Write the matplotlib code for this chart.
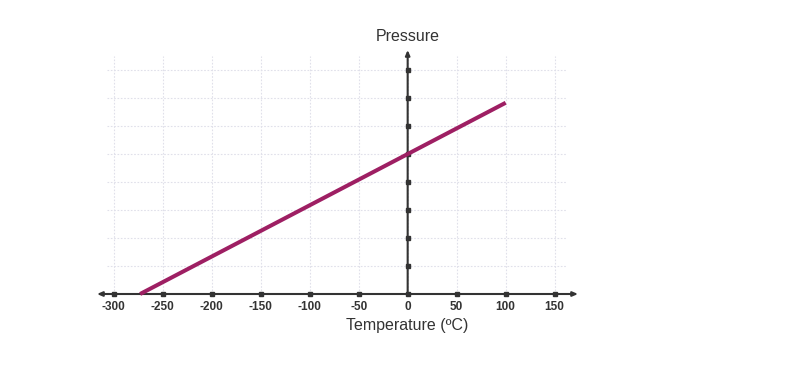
import matplotlib
matplotlib.use("Agg")
import matplotlib.pyplot as plt

plt.rcParams["font.family"] = ["Liberation Sans", "DejaVu Sans"]

# data
temp_ticks = [-300, -250, -200, -150, -100, -50, 0, 50, 100, 150]
pressure_ticks = [1, 2, 3, 4, 5, 6, 7, 8]
line_temp = [-273, 100]
line_pressure = [0, 6.83]

AXIS_COL = "#333333"
LINE_COL = "#9E1F63"
GRID_COL = "#e0e0ea"

W, H = 791, 365
fig = plt.figure(figsize=(W / 100, H / 100), dpi=100)
# axes placed so x=0 sits at pixel 408 and y=0 at pixel 294
ax = fig.add_axes([97 / W, (H - 294) / H, (578 - 97) / W, (294 - 50) / H])
ax.set_xlim(-317, 173.8)
ax.set_ylim(0, 244 / 28)
for s in ax.spines.values():
    s.set_visible(False)

# dotted grid, limited extent
ax.vlines(temp_ticks, 0, 8.5, colors=GRID_COL, linestyles=(0, (1.5, 1.5)), linewidth=0.8, zorder=0)
ax.hlines(pressure_ticks, -307, 162, colors=GRID_COL, linestyles=(0, (1.5, 1.5)), linewidth=0.8, zorder=0)

# axes with arrows
ax.annotate("", xy=(173.8, 0), xytext=(-317, 0),
            arrowprops=dict(arrowstyle="<|-|>,head_length=0.3,head_width=0.13",
                            color=AXIS_COL, lw=1.5, shrinkA=0, shrinkB=0),
            annotation_clip=False)
ax.annotate("", xy=(0, 244 / 28), xytext=(0, 0),
            arrowprops=dict(arrowstyle="-|>,head_length=0.3,head_width=0.13",
                            color=AXIS_COL, lw=1.5, shrinkA=0, shrinkB=0),
            annotation_clip=False)

# tick markers
ax.plot(temp_ticks, [0] * len(temp_ticks), "s", color=AXIS_COL, ms=3.2, clip_on=False, zorder=3)
ax.plot([0] * len(pressure_ticks), pressure_ticks, "s", color=AXIS_COL, ms=3.2, clip_on=False, zorder=3)

# the line
ax.plot(line_temp, line_pressure, color=LINE_COL, lw=2.9, solid_capstyle="butt", clip_on=False, zorder=4)

ax.set_xticks(temp_ticks)
ax.set_xticklabels([str(t) for t in temp_ticks], fontweight="bold", fontsize=8.5, color=AXIS_COL)
ax.tick_params(axis="x", length=0, pad=5)
ax.set_yticks([])

ax.text(0, -1.14, "Temperature (ºC)", ha="center", va="center", fontsize=11.5, color=AXIS_COL, clip_on=False)
ax.text(0, 9.21, "Pressure", ha="center", va="center", fontsize=11.5, color=AXIS_COL, clip_on=False)

fig.savefig("out.png", dpi=100)
